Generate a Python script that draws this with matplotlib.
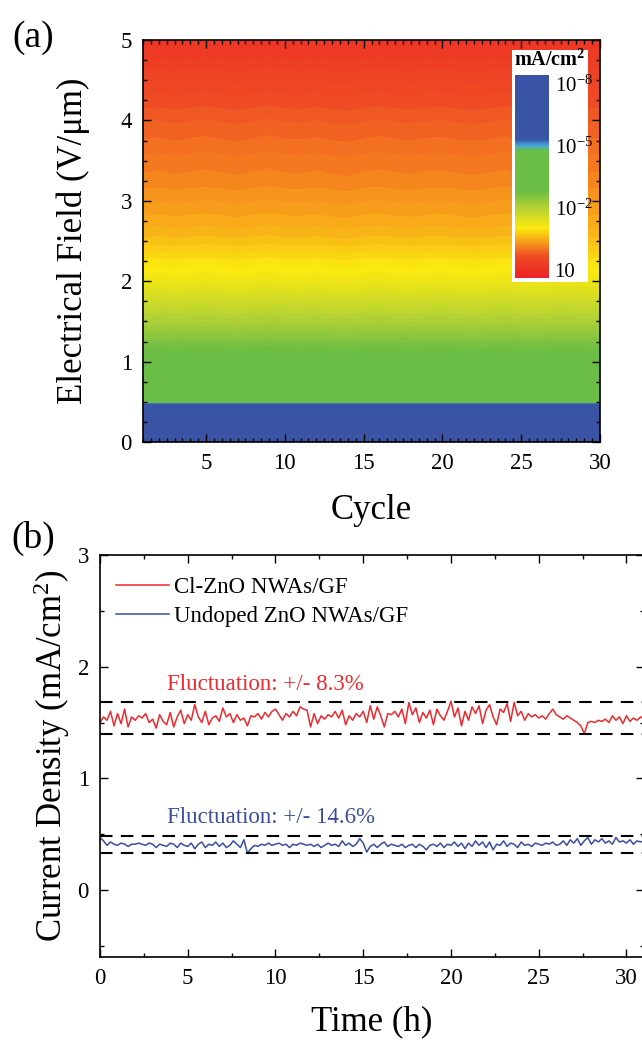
import numpy as np
import matplotlib
matplotlib.use('Agg')
import matplotlib.pyplot as plt
from matplotlib.colors import LinearSegmentedColormap, Normalize
from matplotlib.cm import ScalarMappable
from matplotlib.ticker import MultipleLocator

plt.rcParams['font.family'] = ['Liberation Serif', 'DejaVu Serif']
plt.rcParams['mathtext.fontset'] = 'custom'
plt.rcParams['mathtext.rm'] = 'Liberation Serif'
plt.rcParams['mathtext.it'] = 'Liberation Serif:italic'
plt.rcParams['mathtext.bf'] = 'Liberation Serif:bold'

# ---------------- data: panel (a) ----------------
cycles = list(range(1, 31))
field = [0.0, 0.25, 0.45, 0.5, 0.75, 1.0, 1.25, 1.5, 1.75, 2.0, 2.25, 2.5,
         2.75, 3.0, 3.25, 3.5, 3.75, 4.0, 4.25, 4.5, 4.75, 5.0]
log_j_profile = [-8.0, -7.8, -6.6, -4.5, -3.6, -3.0, -2.6, -2.1, -1.65, -1.2,
                 -0.95, -0.65, -0.45, -0.3, -0.15, -0.05, 0.08, 0.2, 0.35,
                 0.5, 0.68, 0.85]
cycle_shift = [0.01, -0.005, 0.015, 0.0, -0.01, 0.005, 0.02, 0.0, -0.015, 0.005,
               0.01, -0.005, 0.015, 0.025, 0.0, -0.01, 0.005, 0.015, 0.0, -0.005,
               0.01, 0.02, 0.005, -0.01, 0.015, 0.025, 0.0, -0.005, 0.01, 0.0]
cbar_ticks = [-8, -5, -2, 1]
cbar_labels = [r'$10^{-8}$', r'$10^{-5}$', r'$10^{-2}$', '10']

# ---------------- data: panel (b) ----------------
time_h = [i * 0.2 for i in range(156)]
cl_zno = [1.50, 1.55, 1.52, 1.60, 1.47, 1.58, 1.49, 1.62, 1.46, 1.55,
          1.52, 1.56, 1.54, 1.58, 1.50, 1.53, 1.45, 1.57, 1.51, 1.48,
          1.59, 1.46, 1.55, 1.61, 1.49, 1.57, 1.52, 1.66, 1.55, 1.50,
          1.60, 1.48, 1.54, 1.56, 1.51, 1.63, 1.55, 1.58, 1.50, 1.57,
          1.52, 1.54, 1.47, 1.56, 1.55, 1.58, 1.53, 1.59, 1.55, 1.60,
          1.62, 1.57, 1.52, 1.58, 1.55, 1.60, 1.56, 1.64, 1.62, 1.61,
          1.46, 1.58, 1.49, 1.56, 1.53, 1.57, 1.55, 1.60, 1.54, 1.61,
          1.48, 1.56, 1.52, 1.58, 1.55, 1.60, 1.50, 1.65, 1.53, 1.64,
          1.56, 1.46, 1.58, 1.57, 1.60, 1.55, 1.62, 1.49, 1.68, 1.57,
          1.63, 1.50, 1.59, 1.54, 1.61, 1.48, 1.62, 1.56, 1.52, 1.60,
          1.69, 1.55, 1.63, 1.47, 1.60, 1.52, 1.64, 1.58, 1.65, 1.49,
          1.61, 1.66, 1.55, 1.48, 1.62, 1.59, 1.67, 1.51, 1.68, 1.56,
          1.60, 1.52, 1.58, 1.55, 1.57, 1.54, 1.56, 1.53, 1.58, 1.62,
          1.57, 1.55, 1.53, 1.56, 1.54, 1.52, 1.50, 1.47, 1.40, 1.50,
          1.51, 1.50, 1.52, 1.51, 1.53, 1.50, 1.56, 1.52, 1.55, 1.49,
          1.56, 1.51, 1.54, 1.52, 1.55, 1.53]
undoped_zno = [0.47, 0.44, 0.40, 0.43, 0.41, 0.40, 0.42, 0.41, 0.39, 0.41,
               0.41, 0.42, 0.41, 0.40, 0.42, 0.41, 0.38, 0.41, 0.40, 0.39,
               0.42, 0.41, 0.38, 0.42, 0.40, 0.39, 0.42, 0.37, 0.41, 0.43,
               0.38, 0.41, 0.40, 0.43, 0.39, 0.42, 0.38, 0.40, 0.44, 0.41,
               0.38, 0.45, 0.33, 0.37, 0.40, 0.39, 0.41, 0.40, 0.42, 0.40,
               0.41, 0.42, 0.40, 0.41, 0.38, 0.41, 0.40, 0.42, 0.41, 0.40,
               0.41, 0.39, 0.41, 0.38, 0.40, 0.42, 0.40, 0.41, 0.39, 0.44,
               0.40, 0.42, 0.39, 0.41, 0.46, 0.42, 0.34, 0.39, 0.41, 0.38,
               0.41, 0.43, 0.39, 0.41, 0.40, 0.39, 0.41, 0.38, 0.40, 0.41,
               0.38, 0.41, 0.39, 0.36, 0.40, 0.41, 0.39, 0.42, 0.38, 0.41,
               0.40, 0.43, 0.39, 0.42, 0.37, 0.42, 0.39, 0.44, 0.40, 0.43,
               0.38, 0.43, 0.36, 0.41, 0.40, 0.44, 0.39, 0.42, 0.41, 0.38,
               0.43, 0.40, 0.41, 0.39, 0.42, 0.41, 0.40, 0.42, 0.41, 0.43,
               0.40, 0.41, 0.44, 0.40, 0.45, 0.42, 0.46, 0.40, 0.44, 0.47,
               0.41, 0.45, 0.43, 0.46, 0.42, 0.44, 0.41, 0.47, 0.43, 0.44,
               0.42, 0.45, 0.41, 0.44, 0.43, 0.44]
red_bounds = [1.68, 1.40]
blue_bounds = [0.48, 0.33]
series_names = ['Cl-ZnO NWAs/GF', 'Undoped ZnO NWAs/GF']
fluct_labels = ['Fluctuation: +/- 8.3%', 'Fluctuation: +/- 14.6%']

RED = '#ee2a2e'
BLUE = '#3b4da0'

# ---------------- colormap ----------------
cm_vals = [-8.4, -5.3, -5.0, -4.75, -2.8, -2.0, -1.0, -0.25, 0.35, 1.4]
cm_cols = ['#3a53a4', '#3a55a6', '#45a8de', '#6abd45', '#6abd45', '#b3d235',
           '#fbe90f', '#f7941d', '#ef4b24', '#ec2227']
vmin, vmax = cm_vals[0], cm_vals[-1]
pos = [(v - vmin) / (vmax - vmin) for v in cm_vals]
cmap = LinearSegmentedColormap.from_list('jmap', list(zip(pos, cm_cols)))
norm = Normalize(vmin=vmin, vmax=vmax)

W, H = 642, 1040
fig = plt.figure(figsize=(W / 100, H / 100), dpi=100)


def fax(l, t, r, b):
    return [l / W, 1 - b / H, (r - l) / W, (b - t) / H]


# ---------------- panel (a) ----------------
ax1 = fig.add_axes(fax(143, 40, 600, 442))
f_arr = np.array(field)
weight = np.where(f_arr >= 0.5, 1.0, 0.2)
Z = np.array(log_j_profile)[:, None] + weight[:, None] * np.array(cycle_shift)[None, :]
levels = np.linspace(vmin, vmax, 99)
ax1.contourf(cycles, field, Z, levels=levels, cmap=cmap, norm=norm)
ax1.set_xlim(1, 30)
ax1.set_ylim(0, 5)
ax1.xaxis.set_major_locator(MultipleLocator(5))
ax1.xaxis.set_minor_locator(MultipleLocator(0.5))
ax1.yaxis.set_major_locator(MultipleLocator(1))
ax1.yaxis.set_minor_locator(MultipleLocator(0.25))
ax1.tick_params(which='both', direction='in', top=True, right=True,
                labelsize=16.5, width=1.0)
ax1.tick_params(which='major', length=6, pad=8)
ax1.tick_params(which='minor', length=3)
for s in ax1.spines.values():
    s.set_linewidth(1.2)
ax1.set_xlabel('Cycle', fontsize=25, labelpad=14)
ax1.set_ylabel('Electrical Field (V/\u03bcm)', fontsize=25, labelpad=22)

# colorbar box
box = fig.add_axes(fax(512, 50, 588, 282))
box.set_facecolor('white')
box.set_xticks([])
box.set_yticks([])
for s in box.spines.values():
    s.set_visible(False)
box.text(0.5, 0.955, r'mA/cm$^{\mathbf{2}}$', transform=box.transAxes,
         ha='center', va='center', fontsize=14.5, fontweight='bold')

cax = fig.add_axes(fax(515, 75, 549, 278))
sm = ScalarMappable(norm=norm, cmap=cmap)
cb = fig.colorbar(sm, cax=cax)
cb.outline.set_visible(False)
cax.invert_yaxis()
cb.set_ticks(cbar_ticks)
cb.set_ticklabels(cbar_labels)
cax.tick_params(length=0, labelsize=15, pad=4)

fig.text(33 / W, 1 - 38 / H, '(a)', fontsize=27, ha='center', va='center')

# ---------------- panel (b) ----------------
ax2 = fig.add_axes(fax(100, 555, 644, 957))
ax2.plot(time_h, cl_zno, color=RED, lw=1.1, label=series_names[0])
ax2.plot(time_h, undoped_zno, color=BLUE, lw=1.1, label=series_names[1])
for v in red_bounds + blue_bounds:
    ax2.axhline(v, color='black', lw=1.5, ls=(0, (6, 4)))
ax2.text(3.8, 1.84, fluct_labels[0], color=RED, fontsize=16.5,
         ha='left', va='center')
ax2.text(3.8, 0.65, fluct_labels[1], color=BLUE, fontsize=16.5,
         ha='left', va='center')
ax2.set_xlim(0, 31)
ax2.set_ylim(-0.6, 3)
ax2.xaxis.set_major_locator(MultipleLocator(5))
ax2.xaxis.set_minor_locator(MultipleLocator(2.5))
ax2.yaxis.set_major_locator(MultipleLocator(1))
ax2.yaxis.set_minor_locator(MultipleLocator(0.5))
ax2.tick_params(which='both', direction='in', top=True, right=True,
                labelsize=16.5, width=1.0)
ax2.tick_params(which='major', length=6, pad=8)
ax2.tick_params(which='minor', length=3)
for s in ax2.spines.values():
    s.set_linewidth(1.2)
ax2.set_xlabel('Time (h)', fontsize=25, labelpad=12)
ax2.set_ylabel('Current Density (mA/cm$^2$)', fontsize=25, labelpad=4)
ax2.legend(loc='upper left', frameon=False, fontsize=16.5, handlelength=2.3,
           handletextpad=0.25, labelspacing=0.35, borderaxespad=0.3,
           bbox_to_anchor=(0.0, 0.985))

fig.text(33 / W, 1 - 538 / H, '(b)', fontsize=27, ha='center', va='center')

fig.savefig('out.png', dpi=100)
